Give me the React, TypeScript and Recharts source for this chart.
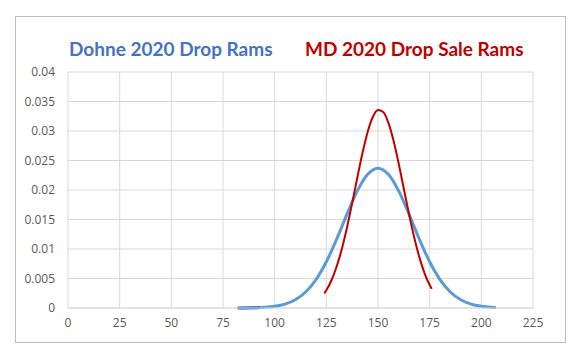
import { LineChart, Line, XAxis, YAxis, CartesianGrid } from "recharts";

// Dohne 2020 Drop Rams
const dohneX = [83, 85, 90, 95, 100, 105, 110, 115, 120, 125, 130, 135, 140, 145, 150, 155, 160, 165, 170, 175, 180, 185, 190, 195, 200, 205, 207];
const dohneY = [
  0.0000083, 0.0000134, 0.00004, 0.000112, 0.000283, 0.000656, 0.00139, 0.00271, 0.00481, 0.00783, 0.01167, 0.01591,
  0.01985, 0.02267, 0.0237, 0.02267, 0.01985, 0.01591, 0.01167, 0.00783, 0.00481, 0.00271, 0.00139, 0.000656,
  0.000283, 0.000112, 0.000075,
];

// darker start of the Dohne curve
const tailX = [82, 85, 90, 93];
const tailY = [0.000006, 0.0000134, 0.00004, 0.00007];

// MD 2020 Drop Sale Rams
const mdX = [124, 125, 127.5, 130, 132.5, 135, 137.5, 140, 142.5, 145, 147.5, 150, 152.5, 155, 157.5, 160, 162.5, 165, 167.5, 170, 172.5, 175, 176];
const mdY = [
  0.00249, 0.00301, 0.0047, 0.00703, 0.01002, 0.01366, 0.01778, 0.02212, 0.02628, 0.02984, 0.03237, 0.03354, 0.03321,
  0.03141, 0.02838, 0.0245, 0.02021, 0.01592, 0.01198, 0.00862, 0.00592, 0.00389, 0.00324,
];

const xTicks = [0, 25, 50, 75, 100, 125, 150, 175, 200, 225];
const yTicks = [0, 0.005, 0.01, 0.015, 0.02, 0.025, 0.03, 0.035, 0.04];

const dohne = dohneX.map((x, i) => ({ x, y: dohneY[i] }));
const tail = tailX.map((x, i) => ({ x, y: tailY[i] }));
const md = mdX.map((x, i) => ({ x, y: mdY[i] }));

const TITLE_FONT = "Lato, 'Open Sans', sans-serif";
const tick = { fill: "#595959", fontSize: 12, fontFamily: "'Open Sans', sans-serif" };

const titleStyle = {
  position: "absolute" as const,
  top: 20,
  fontFamily: TITLE_FONT,
  fontWeight: 700,
  fontSize: 19,
  lineHeight: "24px",
  whiteSpace: "nowrap" as const,
};

export default function App() {
  return (
    <div
      style={{
        position: "relative",
        marginLeft: 7,
        marginTop: 8,
        width: 549,
        height: 325,
        border: "1px solid #BFBFBF",
        background: "#fff",
      }}
    >
      <div style={{ ...titleStyle, left: 53, color: "#4472C4" }}>Dohne 2020 Drop Rams</div>
      <div style={{ ...titleStyle, left: 289, color: "#C00000" }}>MD 2020 Drop Sale Rams</div>
      <LineChart width={549} height={325} margin={{ top: 55, right: 32, left: 0, bottom: 0 }}>
        <CartesianGrid stroke="#D9D9D9" strokeWidth={1} />
        <XAxis
          type="number"
          dataKey="x"
          domain={[0, 225]}
          ticks={xTicks}
          tick={tick}
          tickLine={false}
          axisLine={{ stroke: "#D9D9D9" }}
          tickSize={0}
          tickMargin={10}
          height={34}
          allowDuplicatedCategory={false}
        />
        <YAxis
          type="number"
          domain={[0, 0.04]}
          ticks={yTicks}
          tick={tick}
          tickLine={false}
          axisLine={false}
          tickSize={0}
          tickMargin={13}
          width={52}
        />
        <Line
          data={dohne}
          dataKey="y"
          type="monotone"
          stroke="#5B9BD5"
          strokeWidth={3}
          dot={false}
          isAnimationActive={false}
        />
        <Line
          data={tail}
          dataKey="y"
          type="monotone"
          stroke="#4472C4"
          strokeWidth={3}
          dot={false}
          isAnimationActive={false}
        />
        <Line
          data={md}
          dataKey="y"
          type="monotone"
          stroke="#C00000"
          strokeWidth={2}
          dot={false}
          isAnimationActive={false}
        />
      </LineChart>
    </div>
  );
}
